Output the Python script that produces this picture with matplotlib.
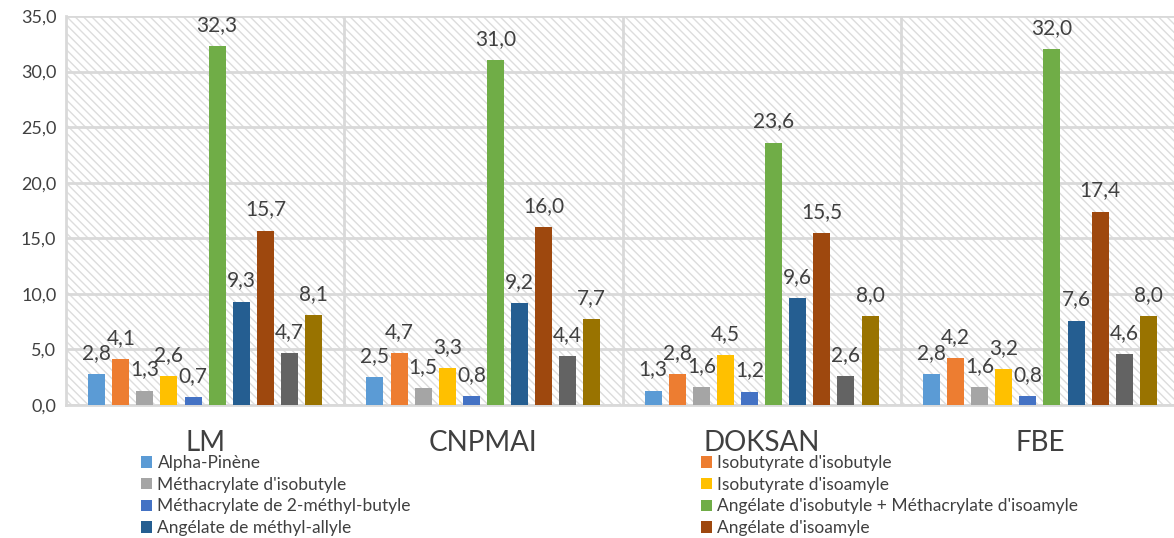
import matplotlib.pyplot as plt
import numpy as np
from matplotlib.patches import Rectangle, Patch

# données
groups = ["LM", "CNPMAI", "DOKSAN", "FBE"]
series_names = [
    "Alpha-Pinène",
    "Isobutyrate d'isobutyle",
    "Méthacrylate d'isobutyle",
    "Isobutyrate d'isoamyle",
    "Méthacrylate de 2-méthyl-butyle",
    "Angélate d'isobutyle + Méthacrylate d'isoamyle",
    "Angélate de méthyl-allyle",
    "Angélate d'isoamyle",
    "Série 9",
    "Série 10",
]
alpha_pinene = [2.8, 2.5, 1.3, 2.8]
isobutyrate_isobutyle = [4.1, 4.7, 2.8, 4.2]
methacrylate_isobutyle = [1.3, 1.5, 1.6, 1.6]
isobutyrate_isoamyle = [2.6, 3.3, 4.5, 3.2]
methacrylate_2mb = [0.7, 0.8, 1.2, 0.8]
angelate_isobutyle_meth = [32.3, 31.0, 23.6, 32.0]
angelate_methyl_allyle = [9.3, 9.2, 9.6, 7.6]
angelate_isoamyle = [15.7, 16.0, 15.5, 17.4]
serie9 = [4.7, 4.4, 2.6, 4.6]
serie10 = [8.1, 7.7, 8.0, 8.0]

values = [alpha_pinene, isobutyrate_isobutyle, methacrylate_isobutyle,
          isobutyrate_isoamyle, methacrylate_2mb, angelate_isobutyle_meth,
          angelate_methyl_allyle, angelate_isoamyle, serie9, serie10]
colors = ["#5B9BD5", "#ED7D31", "#A5A5A5", "#FFC000", "#4472C4",
          "#70AD47", "#255E91", "#9E480E", "#636363", "#997300"]

plt.rcParams["font.family"] = ["Lato", "DejaVu Sans"]
plt.rcParams["hatch.linewidth"] = 1.0
plt.rcParams["hatch.color"] = "#d9d9d9"
txt = "#404040"

fig = plt.figure(figsize=(11.74, 5.38), dpi=100)
ax = fig.add_axes([66 / 1174, 133 / 538, 1113 / 1174, 389 / 538])

# fond hachuré
ax.add_patch(Rectangle((0, 0), 1, 1, transform=ax.transAxes, facecolor="white",
                       hatch="\\\\\\\\", edgecolor="#dddddd", lw=0, zorder=0))

x = np.arange(len(groups))
step = 0.0866
width = 0.061
for i, (vals, c) in enumerate(zip(values, colors)):
    pos = x + (i - 4.5) * step
    bars = ax.bar(pos, vals, width, color=c, zorder=3, label=series_names[i])
    ax.bar_label(bars, labels=[f"{v:.1f}".replace(".", ",") for v in vals],
                 padding=8, fontsize=15, color=txt, zorder=4)

ax.set_xlim(-0.5, 3.5)
ax.set_ylim(0, 35)
ax.set_yticks(np.arange(0, 36, 5))
ax.set_yticklabels([f"{v:.1f}".replace(".", ",") for v in np.arange(0, 36, 5)],
                   fontsize=13, color=txt)
ax.set_xticks(x)
ax.set_xticklabels(groups, fontsize=20, color=txt)
ax.set_xticks([0.5, 1.5, 2.5], minor=True)
ax.tick_params(axis="both", which="both", length=0)
ax.tick_params(axis="x", pad=18)
ax.tick_params(axis="y", pad=7)
ax.grid(True, axis="y", color="#d9d9d9", lw=2, zorder=1)
ax.grid(True, axis="x", which="minor", color="#d9d9d9", lw=2, zorder=1)
ax.set_axisbelow(True)
for s in ["top", "right"]:
    ax.spines[s].set_visible(False)
ax.spines["left"].set_color("#d9d9d9")
ax.spines["left"].set_linewidth(2)
ax.spines["bottom"].set_color("#d9d9d9")
ax.spines["bottom"].set_linewidth(2)

# légende (deux colonnes, seulement 8 séries visibles)
handles = [Patch(facecolor=c) for c in colors[:8]]
kw = dict(frameon=False, fontsize=12.5, handlelength=0.65, handleheight=0.65,
          handletextpad=0.3, labelspacing=0.33, borderpad=0, borderaxespad=0,
          loc="upper left", labelcolor=txt)
leg1 = fig.legend(handles[0::2], series_names[0:8:2],
                  bbox_to_anchor=(141 / 1174, 1 - 455 / 538), **kw)
leg2 = fig.legend(handles[1::2], series_names[1:8:2],
                  bbox_to_anchor=(701 / 1174, 1 - 455 / 538), **kw)

fig.savefig("out.png", dpi=100)
